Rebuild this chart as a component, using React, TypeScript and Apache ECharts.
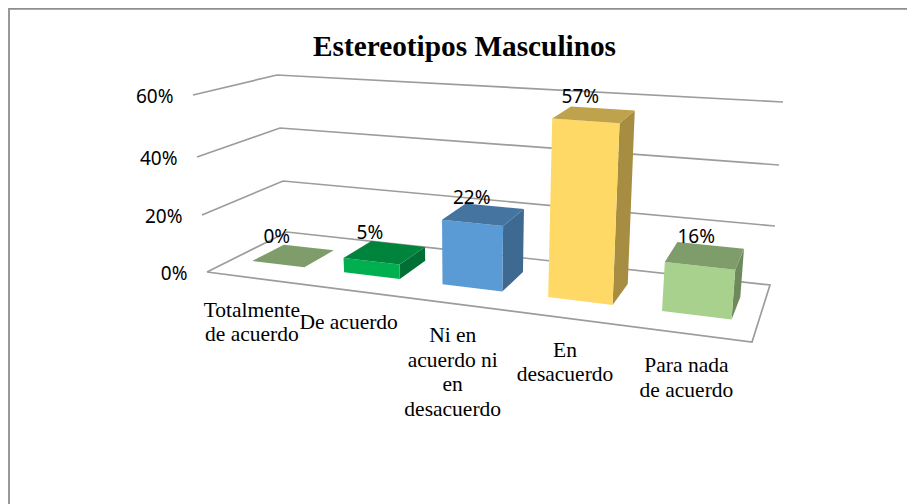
import React, { useEffect, useRef } from "react";
import * as echarts from "echarts";

const title = "Estereotipos Masculinos";
const categories = [
  "Totalmente\nde acuerdo",
  "De acuerdo",
  "Ni en\nacuerdo ni\nen\ndesacuerdo",
  "En\ndesacuerdo",
  "Para nada\nde acuerdo",
];
const values = [0, 5, 22, 57, 16];
const yTicks = [0, 20, 40, 60];

// face colours per bar: front, top, side
const barFront = ["#A9D18E", "#00B050", "#5B9BD5", "#FFD966", "#A9D18E"];
const barTop = ["#7F9D6A", "#00843C", "#44749F", "#BFA24C", "#7F9D6A"];
const barSide = ["#6E8A5C", "#006F35", "#3E6A92", "#A68D42", "#6E8A5C"];
const labelShiftX = [-17, -15, -12, -14, -9];
const labelShiftY = [-20, -20, -17, -18, -19];

// Perspective frame of the 3D plot: the four vertical edges at the levels of yTicks
const edgeFL = [[207, 272], [202, 215], [197, 157], [193, 95]];
const edgeFR = [[752, 342], [757, 278], [762, 209], [766, 137]];
const edgeBR = [[770, 285], [775, 226], [779, 165], [783, 102]];
const edgeBL = [[287, 232], [283, 181], [280, 128], [277, 75]];
const DEPTH_FRONT = 0.305;
const DEPTH_BACK = 0.71;
const BAR_SHARE = 0.575;

const edgeShift = (edge: number[][], w: number) => {
  const t = Math.max(0, Math.min(edge.length - 1.0001, (w / 60) * (edge.length - 1)));
  const i = Math.floor(t);
  const f = t - i;
  return [
    edge[i][0] + (edge[i + 1][0] - edge[i][0]) * f - edge[0][0],
    edge[i][1] + (edge[i + 1][1] - edge[i][1]) * f - edge[0][1],
  ];
};

// Homography from the unit square (u along the width, v into the depth) to the floor,
// then the height moves the floor point along the interpolated vertical edges
const project = (u: number, v: number, w: number) => {
  const [x0, y0] = edgeFL[0];
  const [x1, y1] = edgeFR[0];
  const [x2, y2] = edgeBR[0];
  const [x3, y3] = edgeBL[0];
  const dx1 = x1 - x2, dx2 = x3 - x2, sx = x0 - x1 + x2 - x3;
  const dy1 = y1 - y2, dy2 = y3 - y2, sy = y0 - y1 + y2 - y3;
  const den = dx1 * dy2 - dx2 * dy1;
  const g = (sx * dy2 - dx2 * sy) / den;
  const h = (dx1 * sy - sx * dy1) / den;
  const a = x1 - x0 + g * x1, b = x3 - x0 + h * x3;
  const d = y1 - y0 + g * y1, e = y3 - y0 + h * y3;
  const q = g * u + h * v + 1;
  const fl = edgeShift(edgeFL, w), fr = edgeShift(edgeFR, w), br = edgeShift(edgeBR, w), bl = edgeShift(edgeBL, w);
  const mix = (k: number) =>
    (1 - v) * ((1 - u) * fl[k] + u * fr[k]) + v * ((1 - u) * bl[k] + u * br[k]);
  return [(a * u + b * v + x0) / q + mix(0), (d * u + e * v + y0) / q + mix(1)];
};

const SERIF = '"Liberation Serif", "Times New Roman", serif';
const SANS = '"Noto Sans", sans-serif';
const LINE = { stroke: "#9C9C9C", lineWidth: 1.7, fill: "none" };

export default function App() {
  const ref = useRef<HTMLDivElement>(null);
  useEffect(() => {
    document.body.style.margin = "0";
    const chart = echarts.init(ref.current!, undefined, { renderer: "svg" });
    const toU = (cs: any, px: number) => (px - cs.x) / cs.width;
    const toW = (cs: any, py: number) => ((cs.y + cs.height - py) / cs.height) * 60;

    const renderWalls = (params: any, api: any) => {
      const cs = params.coordSys;
      const w = toW(cs, api.coord([0, api.value(1)])[1]);
      const fl = project(0, 0, w), bl = project(0, 1, w), br = project(1, 1, w), fr = project(1, 0, w);
      const children: any[] = [
        {
          type: "polyline",
          shape: { points: w === 0 ? [fl, bl, br, fr, fl] : [fl, bl, br] },
          style: LINE,
        },
        {
          type: "text",
          style: {
            text: `${api.value(1)}%`,
            x: fl[0] - 19.5,
            y: fl[1] + 1,
            align: "right",
            verticalAlign: "middle",
            fontFamily: SANS,
            fontSize: 19,
            fill: "#000",
          },
        },
      ];
      return { type: "group", children };
    };

    const renderBars = (params: any, api: any) => {
      const cs = params.coordSys;
      const i = api.value(0);
      const val = api.value(1);
      const top = api.coord([i, val]);
      const base = api.coord([i, 0]);
      const band = api.size([1, 0])[0];
      const uL = toU(cs, base[0] - (band * BAR_SHARE) / 2);
      const uR = toU(cs, base[0] + (band * BAR_SHARE) / 2);
      const uC = toU(cs, base[0]);
      const w = toW(cs, top[1]);
      const P = (u: number, v: number, l: number) => project(u, v, l);
      const children: any[] = [];
      if (val > 0) {
        children.push({
          type: "polygon",
          shape: { points: [P(uR, DEPTH_FRONT, 0), P(uR, DEPTH_BACK, 0), P(uR, DEPTH_BACK, w), P(uR, DEPTH_FRONT, w)] },
          style: { fill: barSide[i] },
        });
        children.push({
          type: "polygon",
          shape: { points: [P(uL, DEPTH_FRONT, 0), P(uR, DEPTH_FRONT, 0), P(uR, DEPTH_FRONT, w), P(uL, DEPTH_FRONT, w)] },
          style: { fill: barFront[i] },
        });
      }
      children.push({
        type: "polygon",
        shape: { points: [P(uL, DEPTH_FRONT, w), P(uR, DEPTH_FRONT, w), P(uR, DEPTH_BACK, w), P(uL, DEPTH_BACK, w)] },
        style: { fill: barTop[i] },
      });
      const c = P(uC, (DEPTH_FRONT + DEPTH_BACK) / 2, w);
      children.push({
        type: "text",
        style: {
          text: `${val}%`,
          x: c[0] + labelShiftX[i],
          y: c[1] + labelShiftY[i],
          align: "center",
          verticalAlign: "middle",
          fontFamily: SANS,
          fontSize: 19,
          fill: "#000",
        },
      });
      const f = P(uC, 0, 0);
      children.push({
        type: "text",
        style: {
          text: categories[i],
          x: f[0] - 1,
          y: f[1] + 19.5,
          align: "center",
          verticalAlign: "top",
          fontFamily: SERIF,
          fontSize: 21.5,
          lineHeight: 24.5,
          fill: "#000",
        },
      });
      return { type: "group", children };
    };

    chart.setOption({
      animation: false,
      backgroundColor: "#fff",
      title: {
        text: title,
        left: 459.5,
        top: 41,
        textAlign: "center",
        textVerticalAlign: "middle",
        textStyle: { fontFamily: SERIF, fontSize: 29.3, fontWeight: "bold", color: "#000" },
      },
      grid: { left: 100, right: 100, top: 100, bottom: 100 },
      xAxis: { type: "category", data: categories, show: false },
      yAxis: { type: "value", min: 0, max: 60, interval: 20, show: false },
      graphic: [
        {
          type: "polyline",
          shape: { points: [[9, 504], [9, 8.8], [907, 8.8]] },
          style: { stroke: "#8E8E8E", lineWidth: 1.8, fill: "none" },
        },
      ],
      series: [
        { type: "custom", clip: false, renderItem: renderWalls, data: yTicks.map((t) => [0, t]), encode: { x: 0, y: 1 }, z: 1 },
        { type: "custom", clip: false, renderItem: renderBars, data: values.map((v, i) => [i, v]), encode: { x: 0, y: 1 }, z: 2 },
      ],
    });
    return () => chart.dispose();
  }, []);
  return <div ref={ref} style={{ width: 907, height: 504 }} />;
}
